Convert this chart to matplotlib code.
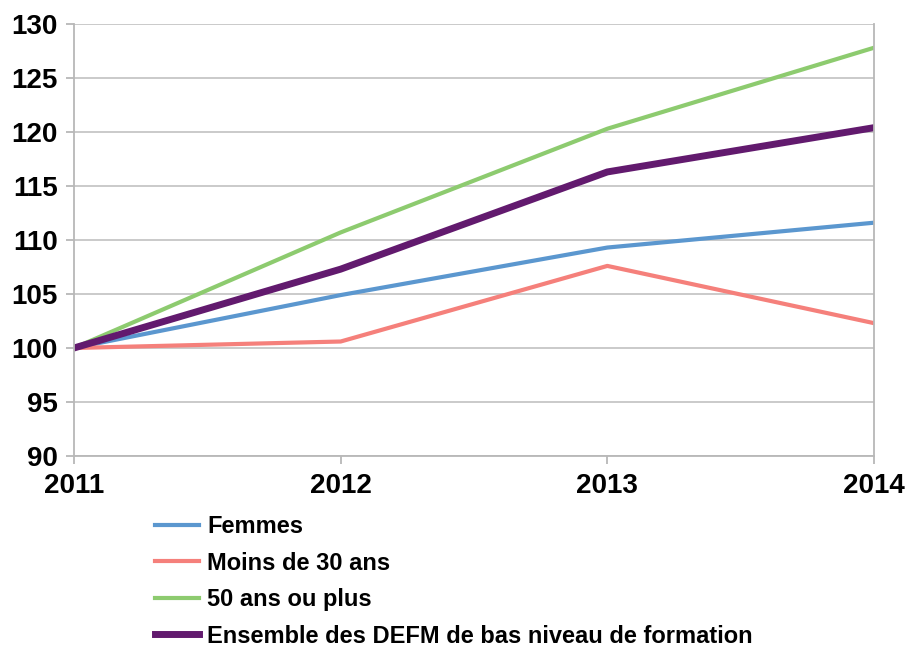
import matplotlib.pyplot as plt

# data (index base 100 in 2011)
years = [2011, 2012, 2013, 2014]
femmes = [100, 104.9, 109.3, 111.6]
moins_30 = [100, 100.6, 107.6, 102.3]
plus_50 = [100, 110.7, 120.3, 127.8]
ensemble = [100, 107.3, 116.3, 120.4]

yticks = [90, 95, 100, 105, 110, 115, 120, 125, 130]

plt.rcParams['font.family'] = ['Liberation Sans', 'DejaVu Sans']

fig = plt.figure(figsize=(9.07, 6.48), dpi=100)
ax = fig.add_axes([0.0816, 0.2963, 0.8820, 0.6667])

ax.plot(years, femmes, color="#5b97cf", lw=3, label="Femmes")
ax.plot(years, moins_30, color="#f5807b", lw=3, label="Moins de 30 ans")
ax.plot(years, plus_50, color="#8dcb6f", lw=3, label="50 ans ou plus")
ax.plot(years, ensemble, color="#621a6e", lw=5, label="Ensemble des DEFM de bas niveau de formation")

ax.set_xlim(2011, 2014)
ax.set_ylim(90, 130)
ax.set_xticks(years)
ax.set_xticklabels([str(y) for y in years])
ax.set_yticks(yticks)
ax.grid(axis="y", color="#c6c6c6", lw=1.3)
ax.grid(axis="x", visible=False)
ax.set_axisbelow(True)
for s in ["left", "right", "bottom", "top"]:
    ax.spines[s].set_color("#b8b8b8")
    ax.spines[s].set_linewidth(1.3)
ax.spines["top"].set_visible(False)
ax.tick_params(axis="both", colors="#b8b8b8", labelcolor="black", length=5.5, width=1.3,
               labelsize=20)
ax.tick_params(axis="y", pad=6)
ax.tick_params(axis="x", pad=7)
for lbl in ax.get_xticklabels() + ax.get_yticklabels():
    lbl.set_fontweight("bold")

leg = fig.legend(loc="upper left", bbox_to_anchor=(0.1603, 0.2195), frameon=False,
                 prop={"weight": "bold", "size": 17}, handlelength=1.85,
                 handletextpad=0.36, labelspacing=0.57, borderaxespad=0)

plt.savefig("out.png", dpi=100)
